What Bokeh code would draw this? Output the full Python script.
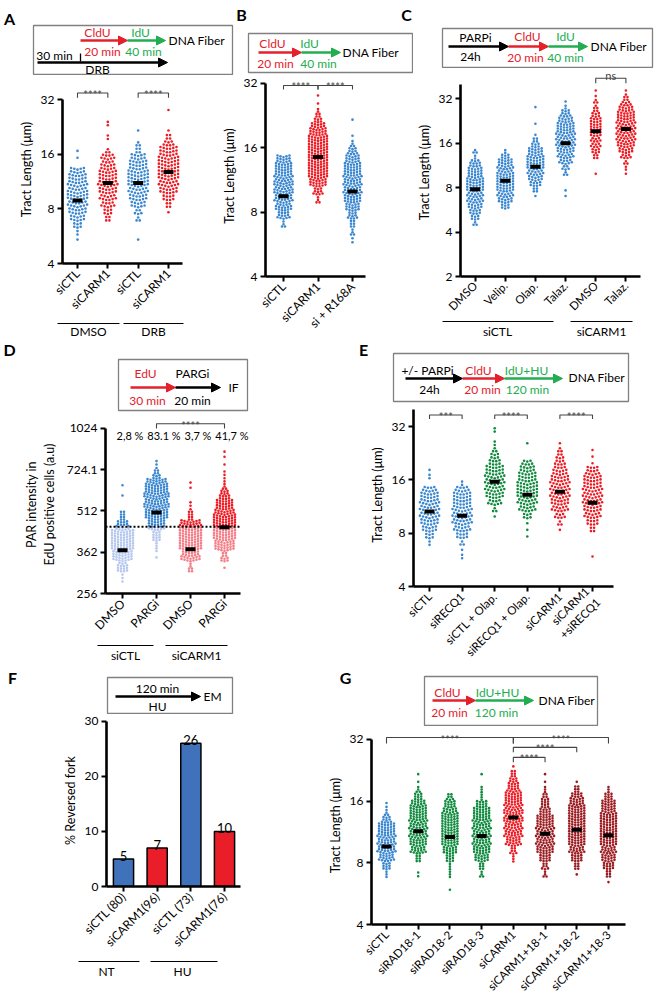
import math
from bokeh.plotting import figure
from bokeh.models import Range1d, FixedTicker, Arrow, NormalHead
from bokeh.layouts import row, column
from bokeh.core.properties import value
from bokeh.embed import file_html
from bokeh.resources import INLINE

FONT = "Lato"
BLUE = "#3a87cf"; RED = "#ed1c24"; GREEN = "#108a3e"; DRED = "#9b1b20"
LBLUE = "#b6c8ee"; LRED = "#f47f88"
A_RED = "#e3202b"; A_GREEN = "#22ad50"
BAR_BLUE = "#3f72ba"; BAR_RED = "#ea1e28"
CHEV = 0.28

# ---------------- data ----------------
# swarm data: histogram counts per 1/8-octave bin, starting at bin index *_start
# (bin k covers 2^(k/8) .. 2^((k+1)/8))
A_labels = ["siCTL", "siCARM1", "siCTL", "siCARM1"]
A_groups = ["DMSO", "DRB"]
A_medians = [8.9, 11.1, 11.1, 12.8]
A_start = [19, 22, 19, 23]
A_counts = [
    [1, 2, 6, 10, 12, 13, 14, 13, 13, 12, 10, 0, 1, 1],
    [4, 6, 9, 11, 12, 13, 12, 11, 9, 9, 3, 0, 2, 0, 2],
    [1, 0, 0, 3, 5, 10, 12, 13, 14, 14, 13, 12, 10, 4, 3, 0, 1],
    [1, 4, 8, 12, 13, 14, 14, 14, 13, 12, 7, 4, 1, 0, 0, 1],
]

B_labels = ["siCTL", "siCARM1", "si + R168A"]
B_medians = [9.5, 14.5, 10.0]
B_start = [22, 25, 20]
B_counts = [
    [4, 13, 17, 19, 20, 20, 19, 18, 15],
    [4, 10, 18, 21, 21, 21, 21, 21, 19, 16, 8, 4, 1, 1],
    [2, 4, 6, 10, 15, 18, 19, 19, 19, 18, 15, 10, 4, 1, 0, 1],
]

C_labels = ["DMSO", "Velip.", "Olap.", "Talaz.", "DMSO", "Talaz."]
C_groups = ["siCTL", "siCARM1"]
C_medians = [7.8, 8.9, 11.1, 16.0, 19.3, 20.0]
C_start = [17, 20, 22, 22, 26, 26]
C_counts = [
    [3, 6, 8, 10, 11, 11, 12, 12, 11, 10, 9, 7, 2, 3],
    [6, 10, 11, 12, 12, 12, 11, 11, 10, 6, 2],
    [1, 4, 8, 10, 11, 12, 12, 11, 10, 6, 4, 1, 0, 1, 0, 0, 1],
    [1, 1, 0, 0, 3, 5, 9, 11, 12, 13, 13, 13, 12, 11, 9, 6, 2, 1],
    [1, 0, 0, 4, 6, 7, 7, 8, 8, 8, 7, 5, 3, 3, 1, 1],
    [1, 2, 3, 7, 10, 12, 13, 13, 13, 13, 12, 11, 9, 5, 3, 1],
]

D_labels = ["DMSO", "PARGi", "DMSO", "PARGi"]
D_groups = ["siCTL", "siCARM1"]
D_medians = [368, 505, 371, 447]
D_threshold = 448
D_percent = ["2,8 %", "83.1 %", "3,7 %", "41,7 %"]
D_start = [65, 67, 66, 66]
D_counts = [
    [3, 15, 28, 32, 32, 18, 8, 0, 1, 1],
    [1, 4, 12, 24, 32, 34, 34, 30, 10, 3],
    [6, 26, 32, 32, 30, 8, 3, 0, 2],
    [1, 10, 28, 32, 32, 30, 24, 14, 5, 3, 1, 2],
]

E_labels = ["siCTL", "siRECQ1", "siCTL + Olap.", "siRECQ1 + Olap.", "siCARM1", "siCARM1\n+siRECQ1"]
E_medians = [10.6, 10.05, 15.6, 13.2, 13.7, 11.9]
E_start = [22, 20, 26, 23, 24, 20]
E_counts = [
    [2, 6, 10, 12, 13, 13, 13, 12, 9, 0, 2, 1],
    [2, 1, 3, 8, 11, 13, 13, 13, 12, 12, 9, 2],
    [1, 3, 9, 12, 13, 13, 13, 12, 8, 6, 3, 2, 0, 2],
    [1, 1, 1, 6, 11, 13, 14, 14, 13, 12, 10, 7, 0, 0, 1],
    [1, 3, 7, 11, 12, 13, 13, 13, 11, 9, 7, 5, 3, 1],
    [1, 0, 0, 0, 4, 8, 11, 12, 13, 13, 13, 12, 11, 8, 1, 1, 1],
]

F_labels = ["siCTL (80)", "siCARM1(96)", "siCTL (73)", "siCARM1(76)"]
F_groups = ["NT", "HU"]
F_values = [5, 7, 26, 10]

G_labels = ["siCTL", "siRAD18-1", "siRAD18-2", "siRAD18-3", "siCARM1",
            "siCARM1+18-1", "siCARM1+18-2", "siCARM1+18-3"]
G_medians = [9.6, 11.4, 10.7, 10.8, 13.3, 11.1, 11.6, 10.9]
G_start = [22, 22, 20, 22, 24, 22, 22, 21]
G_counts = [
    [3, 9, 16, 19, 19, 19, 18, 10, 4, 2],
    [2, 0, 6, 16, 18, 19, 19, 19, 18, 16, 9, 4, 1, 1],
    [1, 0, 3, 3, 9, 15, 18, 18, 18, 18, 16, 12, 7],
    [4, 6, 15, 18, 19, 19, 19, 19, 18, 12, 3, 3, 0, 1],
    [3, 7, 16, 19, 19, 20, 20, 19, 18, 13, 10, 6, 1],
    [4, 7, 12, 18, 19, 19, 19, 18, 12, 9, 7, 3, 1, 1],
    [1, 6, 12, 16, 18, 18, 18, 18, 18, 16, 13, 6, 1],
    [1, 6, 12, 15, 16, 18, 18, 18, 18, 16, 15, 9, 3],
]

# ---------------- styles ----------------
A_colors = [BLUE, RED, BLUE, RED]
B_colors = [BLUE, RED, BLUE]
C_colors = [BLUE, BLUE, BLUE, BLUE, RED, RED]
D_dark = [BLUE, BLUE, RED, RED]
D_light = [LBLUE, LBLUE, LRED, LRED]
E_colors = [BLUE, BLUE, GREEN, GREEN, RED, RED]
F_colors = [BAR_BLUE, BAR_RED, BAR_BLUE, BAR_RED]
G_colors = [BLUE, GREEN, GREEN, GREEN, RED, DRED, DRED, DRED]


# ---------------- helpers ----------------
def fix(p):
    p.sizing_mode = "fixed"
    p.width_policy = "fixed"
    p.height_policy = "fixed"
    return p


def deco(x0, y0, w, h):
    p = figure(width=w, height=h, x_range=Range1d(x0, x0 + w), y_range=Range1d(y0 + h, y0),
               x_axis_location=None, y_axis_location=None, toolbar_location=None,
               output_backend="svg", min_border=0, title=None)
    p.min_border_left = 0; p.min_border_right = 0; p.min_border_top = 0; p.min_border_bottom = 0
    p.grid.visible = False
    p.outline_line_color = None
    p.background_fill_color = "white"
    p.border_fill_color = "white"
    return fix(p)


def txt(p, x, y, s, color="black", size=12, align="center", baseline="middle", bold=False):
    p.text(x=[x], y=[y], text=[s], text_color=color, text_font=value(FONT),
           text_font_size=f"{size}px", text_align=align, text_baseline=baseline,
           text_font_style="bold" if bold else "normal")


def arrow(p, x0, x1, y, color, lw=2.4):
    p.add_layout(Arrow(x_start=x0, y_start=y, x_end=x1, y_end=y, line_color=color, line_width=lw,
                       end=NormalHead(size=9, fill_color=color, line_color=color, line_width=1)))


def box(p, l, r, t, b):
    p.quad(left=[l], right=[r], top=[t], bottom=[b], fill_color=None, line_color="#808080", line_width=1.3)


def hline(p, x0, x1, y, lw=1.2):
    p.line(x=[x0, x1], y=[y, y], line_color="black", line_width=lw)


def cat_range(c0, sp, fx0, fx1):
    return (-(c0 - fx0) / sp, (fx1 - c0) / sp)


def make_main(canvas, frame, xr, yr, log=True):
    cx0, cy0, cx1, cy1 = canvas
    fx0, fy0, fx1, fy1 = frame
    p = figure(width=cx1 - cx0, height=cy1 - cy0, x_range=Range1d(*xr), y_range=Range1d(*yr),
               y_axis_type="log" if log else "linear", toolbar_location=None, output_backend="svg",
               min_border_left=fx0 - cx0, min_border_right=cx1 - fx1,
               min_border_top=fy0 - cy0, min_border_bottom=cy1 - fy1, title=None)
    p.xgrid.visible = False
    p.ygrid.visible = False
    p.outline_line_color = None
    p.background_fill_color = "white"
    p.border_fill_color = "white"
    for ax in (p.xaxis[0], p.yaxis[0]):
        ax.axis_line_width = 2.6
        ax.axis_line_color = "black"
        ax.major_tick_line_width = 2
        ax.major_tick_out = 5
        ax.major_tick_in = 0
        ax.minor_tick_out = 0
        ax.minor_tick_in = 0
        ax.major_label_text_font = FONT
        ax.major_label_text_font_size = "12px"
        ax.major_label_text_color = "black"
        ax.axis_label_text_font = FONT
        ax.axis_label_text_font_size = "12.5px"
        ax.axis_label_text_font_style = "normal"
        ax.axis_label_text_color = "black"
    p.yaxis.major_label_standoff = 3
    p.yaxis.axis_label_standoff = 4
    p.xaxis.major_label_standoff = 3
    return fix(p)


def set_axes(p, xlabels, yticks, ylabels, ytitle, ybounds, xbounds=None):
    p.xaxis.ticker = FixedTicker(ticks=list(range(len(xlabels))))
    p.xaxis.major_label_overrides = {i: s for i, s in enumerate(xlabels)}
    p.xaxis.major_label_orientation = math.pi / 4
    p.yaxis.ticker = FixedTicker(ticks=yticks)
    p.yaxis.major_label_overrides = {t: s for t, s in zip(yticks, ylabels)}
    p.yaxis.axis_label = ytitle
    p.yaxis.bounds = ybounds
    if xbounds is not None:
        p.xaxis.bounds = xbounds


def swarm(p, starts, counts, colors, ppx, ppo, rows, dx=3.3, size=2.6, thr=None, light=None):
    for xi, (st, cnts) in enumerate(zip(starts, counts)):
        xs, ys, cs = [], [], []
        for j, c in enumerate(cnts):
            if c <= 0:
                continue
            k = st + j
            R = min(rows, c)
            base, rem = divmod(c, R)
            for r in range(R):
                n = base + (1 if r < rem else 0)
                lv = (k + (r + 0.5) / R) / 8.0
                for i in range(n):
                    off = (i - (n - 1) / 2.0) * dx
                    v = 2 ** (lv + CHEV * abs(off) / ppo)
                    xs.append(xi + off / ppx)
                    ys.append(v)
                    if thr is None:
                        cs.append(colors[xi])
                    else:
                        cs.append(colors[xi] if v > thr else light[xi])
        p.scatter(x=xs, y=ys, size=size, fill_color=cs, line_color=None, marker="circle")


def medians(p, meds):
    p.rect(x=list(range(len(meds))), y=meds, width=10, height=4, width_units="screen",
           height_units="screen", fill_color="black", line_color=None)


def brackets(p, items, conv, size=11, color="#444444"):
    # items: (i, j, line_y_ref, drop_y_ref, text_baseline_ref, label)
    for (i, j, ly, dy, ty, lab) in items:
        p.multi_line(xs=[[i, i, j, j]], ys=[[conv(dy), conv(ly), conv(ly), conv(dy)]],
                     line_color=color, line_width=1.1)
        p.text(x=[(i + j) / 2], y=[conv(ty)], text=[lab], text_font=value(FONT),
               text_font_size=f"{size}px", text_color=color, text_align="center",
               text_baseline="alphabetic")


def conv_log(frame_top_ref, top_val, ppo):
    return lambda y: top_val * 2 ** ((frame_top_ref - y) / ppo)


TL = "Tract Length (\u03bcm)"
TOP1 = 75   # boundary between protocol strip and plots in panels A/B

# ================= ROW 1 (y 0..338) =================
decoAB = deco(0, 0, 413, TOP1)
txt(decoAB, 9, 18, "A", size=16, bold=True)
box(decoAB, 33, 232, 25, 74)
txt(decoAB, 97, 32, "CldU", A_RED)
arrow(decoAB, 80, 127, 40, A_RED)
arrow(decoAB, 127, 165, 40, A_GREEN)
txt(decoAB, 140, 32, "IdU", A_GREEN)
txt(decoAB, 168, 40, "DNA Fiber", align="left")
txt(decoAB, 102, 51, "20 min", A_RED)
txt(decoAB, 143, 51, "40 min", A_GREEN)
txt(decoAB, 54, 55, "30 min")
decoAB.line(x=[80, 80], y=[53, 61], line_color="black", line_width=1.3)
arrow(decoAB, 37, 167, 62, "black")
txt(decoAB, 97, 68.5, "DRB")

txt(decoAB, 241, 14, "B", size=16, bold=True)
box(decoAB, 248, 412, 33, 72)
txt(decoAB, 272, 43, "CldU", A_RED)
arrow(decoAB, 258, 301, 52, A_RED)
arrow(decoAB, 301, 340, 52, A_GREEN)
txt(decoAB, 309, 43, "IdU", A_GREEN)
txt(decoAB, 342, 52, "DNA Fiber", align="left")
txt(decoAB, 275, 63, "20 min", A_RED)
txt(decoAB, 318, 63, "40 min", A_GREEN)
txt(decoAB, 406, 14, "C", size=16, bold=True)

# --- A main
ppoA = (269 - 100) / 3
topA = 32 * 2 ** ((100 - TOP1) / ppoA)
mainA = make_main((0, TOP1, 215, 320), (62, TOP1, 182, 269), cat_range(77, 30.33, 62, 182), (4, topA))
set_axes(mainA, A_labels, [4, 8, 16, 32], ["4", "8", "16", "32"], TL, (4, 32))
swarm(mainA, A_start, A_counts, A_colors, 30.33, ppoA, 2, dx=3.2)
medians(mainA, A_medians)
cA = conv_log(TOP1, topA, ppoA)
brackets(mainA, [(0, 1, 93, 98, 95, "****"), (2, 3, 93, 98, 95, "****")], cA)

bottomA = deco(0, 320, 215, 18)
hline(bottomA, 57, 119, 323)
hline(bottomA, 123, 183, 323)
txt(bottomA, 88, 331, A_groups[0])
txt(bottomA, 153, 331, A_groups[1])

# --- B main
ppoB = (277 - 83) / 3
topB = 32 * 2 ** ((83 - TOP1) / ppoB)
mainB = make_main((215, TOP1, 413, 338), (265, TOP1, 365, 277), cat_range(283, 34.5, 265, 365), (4, topB))
set_axes(mainB, B_labels, [4, 8, 16, 32], ["4", "8", "16", "32"], TL, (4, 32))
swarm(mainB, B_start, B_counts, B_colors, 34.5, ppoB, 3, dx=3.0)
medians(mainB, B_medians)
cB = conv_log(TOP1, topB, ppoB)
brackets(mainB, [(0, 1, 85, 89, 86, "****"), (1, 2, 85, 89, 86, "****")], cB)

colAB = column(decoAB, row(column(row(mainA), bottomA), row(mainB)))

# --- C
decoC = deco(413, 0, 242, 68)
box(decoC, 442, 652, 28, 67)
txt(decoC, 475, 37, "PARPi")
arrow(decoC, 448, 508, 46, "black")
arrow(decoC, 508, 548, 46, A_RED)
arrow(decoC, 548, 587, 46, A_GREEN)
txt(decoC, 527, 36, "CldU", A_RED)
txt(decoC, 565, 36, "IdU", A_GREEN)
txt(decoC, 470, 56, "24h")
txt(decoC, 525, 57, "20 min", A_RED)
txt(decoC, 565, 57, "40 min", A_GREEN)
txt(decoC, 590, 46, "DNA Fiber", align="left")

ppoC = (281 - 99) / 4
topC = 32 * 2 ** ((99 - 68) / ppoC)
mainC = make_main((413, 68, 655, 320), (455, 68, 640, 281), cat_range(470, 31, 455, 640), (2, topC))
set_axes(mainC, C_labels, [2, 4, 8, 16, 32], ["2", "4", "8", "16", "32"], TL, (2, 40))
mainC.xaxis.major_label_standoff = 2
mainC.xaxis.major_label_text_font_size = "11.5px"
swarm(mainC, C_start, C_counts, C_colors, 31, ppoC, 2, dx=3.2)
medians(mainC, C_medians)
cC = conv_log(68, topC, ppoC)
brackets(mainC, [(4, 5, 78, 83, 75, "ns")], cC, size=11)

bottomC = deco(413, 320, 242, 18)
hline(bottomC, 442, 553, 321)
hline(bottomC, 570, 632, 321)
txt(bottomC, 497, 331, C_groups[0])
txt(bottomC, 601, 331, C_groups[1])

colC = column(decoC, row(mainC), bottomC)
row1 = row(colAB, colC)

# ================= ROW 2 (y 338..666) =================
decoD = deco(0, 338, 340, 74)
txt(decoD, 9, 349, "D", size=16, bold=True)
box(decoD, 118, 247, 359, 410)
txt(decoD, 145, 373, "EdU", A_RED)
arrow(decoD, 130, 175, 387, A_RED)
arrow(decoD, 175, 220, 387, "black")
txt(decoD, 192, 373, "PARGi")
txt(decoD, 228, 387, "IF", align="left")
txt(decoD, 147, 400, "30 min", A_RED)
txt(decoD, 192, 400, "20 min")

ppoD = (605 - 429) / 2
topD = 1024 * 2 ** ((429 - 412) / ppoD)
xrD = cat_range(122, 34, 105, 260)
mainD = make_main((0, 412, 340, 640), (105, 412, 260, 605), xrD, (256, topD))
set_axes(mainD, D_labels, [256, 362, 512, 724.1, 1024], ["256", "362", "512", "724.1", "1024"],
         "PAR  intensity in\nEdU positive cells  (a.u)", (256, 1024), xbounds=(xrD[0], (240 - 122) / 34))
mainD.yaxis.axis_label_standoff = 7
swarm(mainD, D_start, D_counts, D_dark, 34, ppoD, 4, dx=3.0, size=2.6, thr=D_threshold, light=D_light)
mainD.line(x=[xrD[0], (240 - 122) / 34], y=[D_threshold, D_threshold], line_color="black",
           line_width=2, line_dash="2 2")
medians(mainD, D_medians)
cD = conv_log(412, topD, ppoD)
brackets(mainD, [(1, 3, 424, 429, 426, "****")], cD)
mainD.text(x=[i + 0.22 for i in range(4)], y=[cD(437)] * 4, text=D_percent, text_font=value(FONT),
           text_font_size="11px", text_align="center", text_baseline="middle", text_color="black")

bottomD = deco(0, 640, 340, 26)
hline(bottomD, 97, 153, 645)
hline(bottomD, 165, 227, 645)
txt(bottomD, 125, 655, D_groups[0])
txt(bottomD, 196, 655, D_groups[1])
colD = column(decoD, row(mainD), bottomD)

decoE = deco(340, 338, 315, 65)
txt(decoE, 363, 349, "E", size=16, bold=True)
box(decoE, 393, 628, 353, 401)
txt(decoE, 427, 370, "+/- PARPi")
arrow(decoE, 405, 462, 378, "black")
arrow(decoE, 462, 504, 378, A_RED)
arrow(decoE, 504, 562, 378, A_GREEN)
txt(decoE, 429, 389, "24h")
txt(decoE, 478, 370, "CldU", A_RED)
txt(decoE, 482, 389, "20 min", A_RED)
txt(decoE, 526, 370, "IdU+HU", A_GREEN)
txt(decoE, 527, 389, "120 min", A_GREEN)
txt(decoE, 568, 377, "DNA Fiber", align="left")

ppoE = (593 - 427) / 3
topE = 32 * 2 ** ((427 - 403) / ppoE)
mainE = make_main((340, 403, 655, 666), (413, 403, 613, 593), cat_range(429, 32.6, 413, 613), (4, topE))
set_axes(mainE, E_labels, [4, 8, 16, 32], ["4", "8", "16", "32"], TL, (4, 40))
mainE.xaxis.major_label_text_font_size = "11.5px"
swarm(mainE, E_start, E_counts, E_colors, 32.6, ppoE, 2, dx=3.2)
medians(mainE, E_medians)
cE = conv_log(403, topE, ppoE)
brackets(mainE, [(0, 1, 415, 419, 416, "***"), (2, 3, 415, 419, 416, "****"),
                 (4, 5, 415, 419, 416, "****")], cE)
colE = column(decoE, row(mainE))
row2 = row(colD, colE)

# ================= ROW 3 (y 666..1000) =================
decoF = deco(0, 666, 300, 48)
txt(decoF, 12, 677, "F", size=16, bold=True)
box(decoF, 107, 232, 677, 713)
txt(decoF, 157, 688, "120 min")
arrow(decoF, 115, 200, 696, "black")
txt(decoF, 157, 706, "HU")
txt(decoF, 203, 696, "EM", align="left")

ppuF = (894 - 721) / 30
topF = 30 + (721 - 714) / ppuF
mainF = make_main((0, 714, 300, 957), (106, 714, 240, 894), cat_range(123, 33.67, 106, 240), (0, topF), log=False)
set_axes(mainF, F_labels, [0, 10, 20, 30], ["0", "10", "20", "30"], "% Reversed fork", (0, 30))
mainF.vbar(x=list(range(4)), top=F_values, bottom=0, width=0.6, fill_color=F_colors,
           line_color="black", line_width=1.5)
mainF.text(x=list(range(4)), y=F_values, text=[str(v) for v in F_values], text_font=value(FONT),
           text_font_size="13px", text_align="center", text_baseline="alphabetic", y_offset=-3,
           text_color="black")

bottomF = deco(0, 957, 300, 43)
hline(bottomF, 78, 139, 961)
hline(bottomF, 150, 217, 961)
txt(bottomF, 106, 971, F_groups[0])
txt(bottomF, 182, 971, F_groups[1])
colF = column(decoF, row(mainF), bottomF)

decoG = deco(300, 666, 355, 60)
txt(decoG, 345, 677, "G", size=16, bold=True)
box(decoG, 424, 597, 676, 725)
txt(decoG, 447, 692, "CldU", A_RED)
arrow(decoG, 432, 475, 700, A_RED)
arrow(decoG, 475, 533, 700, A_GREEN)
txt(decoG, 497, 692, "IdU+HU", A_GREEN)
txt(decoG, 449, 712, "20 min", A_RED)
txt(decoG, 496, 712, "120 min", A_GREEN)
txt(decoG, 538, 700, "DNA Fiber", align="left")

ppoG = (925 - 739) / 3
topG = 32 * 2 ** ((739 - 726) / ppoG)
mainG = make_main((300, 726, 655, 1000), (371, 726, 625, 925), cat_range(386, 31.71, 371, 625), (4, topG))
set_axes(mainG, G_labels, [4, 8, 16, 32], ["4", "8", "16", "32"], TL, (4, 32))
mainG.xaxis.major_label_text_font_size = "11.5px"
swarm(mainG, G_start, G_counts, G_colors, 31.71, ppoG, 3, dx=3.0)
medians(mainG, G_medians)
cG = conv_log(726, topG, ppoG)
brackets(mainG, [(0, 4, 737, 743, 739, "****"), (4, 7, 737, 743, 739, "****"),
                 (4, 6, 747, 752, 748, "****"), (4, 5, 757, 762, 758, "****")], cG)
colG = column(decoG, row(mainG))
row3 = row(colF, colG)

page = column(row1, row2, row3)
open("out.html", "w").write(file_html(page, INLINE))
